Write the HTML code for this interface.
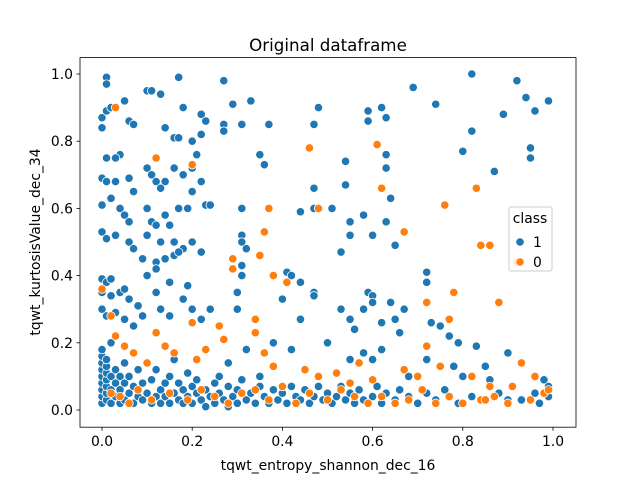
<!DOCTYPE html>
<html><head><meta charset="utf-8"><style>
body{margin:0;background:#fff}
svg text{font-family:"DejaVu Sans","Liberation Sans",sans-serif;fill:#000}
</style></head><body>
<svg id="chart" width="640" height="480" viewBox="0 0 640 480">
<rect width="640" height="480" fill="#fff"/>
<text x="328" y="51" font-size="16.7" text-anchor="middle">Original dataframe</text>
<g id="plot"></g>
<g id="axes"></g>
<text x="328" y="470" font-size="13.9" text-anchor="middle">tqwt_entropy_shannon_dec_16</text>
<text transform="translate(40,242) rotate(-90)" font-size="13.9" text-anchor="middle">tqwt_kurtosisValue_dec_34</text>
<g>
<rect x="509" y="207" width="43" height="64" rx="2" fill="#fff" fill-opacity="0.8" stroke="#ccc"/>
<text x="530" y="223" font-size="13.9" text-anchor="middle">class</text>
<circle cx="520" cy="242" r="4.2" fill="#1f77b4" stroke="#fff" stroke-width="0.8"/>
<text x="533" y="247" font-size="13.9">1</text>
<circle cx="520" cy="262" r="4.2" fill="#ff7f0e" stroke="#fff" stroke-width="0.8"/>
<text x="533" y="267" font-size="13.9">0</text>
</g>
</svg>
<script>
const xTicks=[0.0,0.2,0.4,0.6,0.8,1.0];
const yTicks=[0.0,0.2,0.4,0.6,0.8,1.0];
const blueX=[0.01,0.01,0.0,0.01,0.02,0.0,0.05,0.06,0.07,0.04,0.03,0.01,0.0,0.01,0.03,0.06,0.07,0.02,0.0,0.04,0.05,0.06,0.0,0.01,0.03,0.06,0.07,0.1,0.11,0.13,0.14,0.16,0.17,0.17,0.18,0.22,0.23,0.22,0.2,0.21,0.2,0.22,0.18,0.1,0.11,0.12,0.14,0.16,0.13,0.1,0.11,0.12,0.14,0.15,0.17,0.19,0.2,0.23,0.24,0.1,0.13,0.16,0.18,0.2,0.22,0.09,0.12,0.14,0.16,0.17,0.1,0.12,0.15,0.19,0.0,0.01,0.02,0.0,0.02,0.04,0.05,0.06,0.08,0.0,0.01,0.03,0.05,0.07,0.09,0.12,0.13,0.15,0.18,0.2,0.22,0.24,0.27,0.29,0.33,0.27,0.27,0.31,0.35,0.37,0.36,0.31,0.31,0.31,0.32,0.31,0.31,0.3,0.3,0.41,0.42,0.44,0.4,0.44,0.47,0.47,0.47,0.48,0.51,0.53,0.54,0.54,0.55,0.55,0.59,0.59,0.58,0.6,0.62,0.63,0.63,0.63,0.64,0.63,0.65,0.69,0.74,0.8,0.82,0.82,0.87,0.89,0.92,0.94,0.95,0.95,0.96,0.99,0.47,0.47,0.53,0.55,0.56,0.58,0.59,0.6,0.6,0.62,0.64,0.65,0.66,0.67,0.72,0.72,0.73,0.75,0.77,0.79,0.83,0.85,0.9,0.44,0.38,0.42,0.5,0.55,0.58,0.6,0.62,0.68,0.72,0.78,0.8,0.86,0.98,0.32,0.35,0.26,0.28,
0,0,0,0,0,0,0,0,0,0.01,0.01,0.01,0.01,0.01,0.01,0.01,0.02,0.02,0.02,0.02,0.03,0.03,0.03,0.04,0.04,0.04,0.05,0.05,0.05,0.06,0.06,0.07,0.07,0.08,0.08,0.09,0.09,0.1,0.1,0.11,0.11,0.12,0.12,0.13,0.13,0.14,0.14,0.15,0.15,0.16,0.16,0.17,0.17,0.18,0.18,0.19,0.19,0.2,0.2,0.21,0.21,0.22,0.23,0.23,0.24,0.25,0.25,0.26,0.27,0.28,0.28,0.29,0.3,0.3,0.31,0.32,0.33,0.34,0.35,0.36,0.37,0.38,0.39,0.4,0.41,0.42,0.43,0.44,0.45,0.46,0.47,0.48,0.49,0.5,0.51,0.52,0.53,0.54,0.55,0.56,0.57,0.58,0.6,0.61,0.62,0.63,0.65,0.66,0.68,0.7,0.72,0.74,0.76,0.79,0.82,0.85,0.88,0.9,0.93,0.96,0.99,0.99,0.97];
const blueY=[0.99,0.97,0.87,0.89,0.9,0.84,0.92,0.86,0.85,0.76,0.75,0.75,0.69,0.68,0.68,0.69,0.65,0.63,0.61,0.6,0.58,0.56,0.53,0.51,0.52,0.5,0.48,0.95,0.95,0.94,0.84,0.81,0.81,0.99,0.9,0.88,0.86,0.82,0.8,0.76,0.72,0.68,0.7,0.72,0.7,0.68,0.68,0.72,0.66,0.6,0.56,0.55,0.58,0.55,0.6,0.6,0.65,0.61,0.61,0.52,0.5,0.5,0.48,0.5,0.47,0.45,0.44,0.45,0.46,0.47,0.4,0.42,0.38,0.37,0.39,0.38,0.39,0.35,0.34,0.35,0.36,0.33,0.31,0.3,0.28,0.29,0.27,0.25,0.28,0.35,0.3,0.28,0.33,0.3,0.27,0.3,0.98,0.91,0.92,0.85,0.83,0.85,0.76,0.85,0.73,0.6,0.52,0.5,0.48,0.43,0.4,0.35,0.3,0.41,0.4,0.38,0.33,0.59,0.66,0.6,0.85,0.9,0.6,0.47,0.74,0.67,0.56,0.52,0.89,0.86,0.58,0.52,0.9,0.87,0.76,0.72,0.63,0.56,0.49,0.96,0.91,0.77,1.0,0.83,0.71,0.88,0.98,0.93,0.78,0.75,0.89,0.92,0.35,0.34,0.3,0.27,0.24,0.3,0.35,0.34,0.32,0.26,0.32,0.27,0.23,0.3,0.41,0.38,0.26,0.25,0.22,0.2,0.19,0.13,0.17,0.27,0.2,0.18,0.2,0.15,0.17,0.15,0.18,0.1,0.15,0.13,0.1,0.09,0.09,0.18,0.1,0.1,0.14,
0.02,0.04,0.06,0.08,0.1,0.12,0.14,0.16,0.18,0.03,0.05,0.07,0.09,0.11,0.13,0.15,0.02,0.06,0.1,0.2,0.04,0.08,0.12,0.02,0.06,0.1,0.03,0.08,0.14,0.05,0.1,0.02,0.07,0.04,0.12,0.03,0.08,0.05,0.14,0.02,0.09,0.04,0.12,0.06,0.02,0.08,0.04,0.02,0.1,0.05,0.15,0.03,0.08,0.06,0.02,0.04,0.11,0.07,0.02,0.05,0.09,0.03,0.06,0.01,0.04,0.08,0.02,0.05,0.03,0.07,0.01,0.04,0.06,0.02,0.09,0.03,0.05,0.02,0.07,0.04,0.02,0.06,0.03,0.05,0.02,0.07,0.04,0.03,0.06,0.02,0.04,0.07,0.03,0.05,0.02,0.04,0.07,0.03,0.05,0.02,0.06,0.03,0.04,0.07,0.02,0.05,0.03,0.06,0.04,0.02,0.05,0.03,0.06,0.02,0.04,0.03,0.05,0.03,0.03,0.05,0.07,0.04,0.02];
const orangeX=[0.03,0.12,0.2,0.36,0.46,0.48,0.61,0.37,0.62,0.67,0.76,0.83,0.84,0.86,0.88,0.92,0.78,0.72,0.29,0.29,0.35,0.38,0.41,0.34,0.34,0.26,0.2,0.27,0.0,0.02,0.03,0.05,0.07,0.12,0.14,0.1,0.16,0.21,0.23,0.36,0.38,0.45,0.48,0.52,0.57,0.6,0.67,0.72,0.75,0.77,0.82,0.86,0.91,0.93,0.02,0.04,0.06,0.08,0.11,0.15,0.19,0.22,0.25,0.28,0.31,0.34,0.37,0.4,0.43,0.46,0.5,0.53,0.56,0.59,0.62,0.65,0.68,0.71,0.74,0.77,0.8,0.84,0.87,0.9,0.95,0.98,0.99,0.96,0.85,0.7,0.55];
const orangeY=[0.9,0.75,0.73,0.53,0.78,0.6,0.79,0.6,0.66,0.53,0.61,0.66,0.49,0.49,0.32,0.44,0.35,0.32,0.45,0.42,0.46,0.4,0.38,0.27,0.23,0.25,0.26,0.21,0.36,0.28,0.22,0.19,0.17,0.23,0.19,0.14,0.17,0.15,0.18,0.17,0.13,0.12,0.1,0.11,0.14,0.09,0.12,0.19,0.13,0.27,0.1,0.07,0.07,0.14,0.05,0.04,0.02,0.06,0.03,0.05,0.03,0.06,0.04,0.02,0.05,0.06,0.03,0.07,0.02,0.05,0.03,0.06,0.04,0.02,0.04,0.02,0.03,0.06,0.02,0.04,0.02,0.03,0.04,0.02,0.03,0.05,0.06,0.1,0.03,0.1,0.08];

const NS='http://www.w3.org/2000/svg';
const X0=80,X1=576,Y0=57.6,Y1=427.2;
function xs(v){return 102+451*v;}
function ys(v){return 410-336*v;}
const plot=document.getElementById('plot'), axes=document.getElementById('axes');
function mk(tag,attrs,parent){const e=document.createElementNS(NS,tag);for(const k in attrs)e.setAttribute(k,attrs[k]);parent.appendChild(e);return e;}
function drawSeries(X,Y,color,name){
  for(let i=0;i<X.length;i++){
    const c=mk('circle',{cx:xs(X[i]),cy:ys(Y[i]),r:4.2,fill:color,stroke:'#fff','stroke-width':0.8},plot);
    
    
  }
}
drawSeries(blueX,blueY,'#1f77b4','point-class-1');
drawSeries(orangeX,orangeY,'#ff7f0e','point-class-0');
const fr=mk('rect',{x:X0,y:Y0,width:X1-X0,height:Y1-Y0,fill:'none',stroke:'#000','stroke-width':0.8},axes);


xTicks.forEach(t=>{
  const x=xs(t);
  mk('line',{x1:x,x2:x,y1:Y1,y2:Y1+3.5,stroke:'#000','stroke-width':0.8},axes);
  const tx=mk('text',{x:x,y:Y1+19,'font-size':13.9,'text-anchor':'middle'},axes);
  tx.textContent=t.toFixed(1);
  
  
});
yTicks.forEach(t=>{
  const y=ys(t);
  mk('line',{x1:X0-3.5,x2:X0,y1:y,y2:y,stroke:'#000','stroke-width':0.8},axes);
  const tx=mk('text',{x:X0-7,y:y+5,'font-size':13.9,'text-anchor':'end'},axes);
  tx.textContent=t.toFixed(1);
  
  
});
</script>
</body></html>
